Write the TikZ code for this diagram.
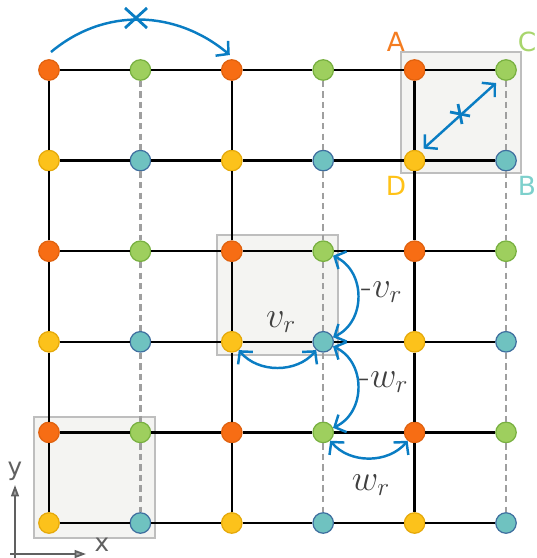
\documentclass[tikz,border=0pt]{standalone}
\usepackage{fontspec}
\newfontfamily\lab{DejaVu Sans}
\usetikzlibrary{arrows.meta,calc}
\definecolor{orgF}{HTML}{F76D14}\definecolor{orgD}{HTML}{E0620F}
\definecolor{grnF}{HTML}{9ECF5E}\definecolor{grnD}{HTML}{78B040}
\definecolor{yelF}{HTML}{FCC21B}\definecolor{yelD}{HTML}{E5A90A}
\definecolor{tealF}{HTML}{6FC2C0}\definecolor{tealD}{HTML}{3F6F9F}
\definecolor{blu}{HTML}{0A7DC3}
\definecolor{boxF}{HTML}{F4F4F2}\definecolor{boxD}{HTML}{BEBEBE}
\definecolor{labA}{HTML}{F47C20}\definecolor{labC}{HTML}{A8D56D}
\definecolor{labD}{HTML}{FFC217}\definecolor{labB}{HTML}{7DD0CC}
\definecolor{txtG}{HTML}{404040}\definecolor{axG}{HTML}{606060}
\begin{document}
\begin{tikzpicture}[x=0.02cm,y=-0.02cm,
  dot/.style={circle,minimum size=0.41cm,inner sep=0pt,line width=0.7pt},
  gbox/.style={fill=boxF,draw=boxD,line width=0.7pt},
  blk/.style={line width=1.3pt,black},
  dsh/.style={line width=1.3pt,gray!75,dash pattern=on 3.6pt off 2.4pt},
  barrow/.style={blu,line width=1.4pt,-{Straight Barb[length=5pt,width=11pt]}},
  bdarrow/.style={blu,line width=1.4pt,{Straight Barb[length=5pt,width=11pt]}-{Straight Barb[length=5pt,width=11pt]}},
  bline/.style={blu,line width=1.6pt},
  mlab/.style={text=txtG,font=\fontsize{20}{22}\selectfont,inner sep=0pt},
  clab/.style={font=\lab\fontsize{15}{17}\selectfont,inner sep=0pt},
  axis/.style={axG,line width=1pt,-{Triangle[length=6.5pt,width=4.5pt,fill=gray!70]}},
  alab/.style={text=axG,font=\lab\fontsize{14}{16}\selectfont,inner sep=0pt}]
\useasboundingbox (0,0) rectangle (537,558);
% gray boxes
\draw[gbox] (401,52) rectangle (521,173);
\draw[gbox] (217,235) rectangle (338,355);
\draw[gbox] (34,417) rectangle (155,538);
% nodes
\foreach \r in {0,...,5}{
  \foreach \c in {0,...,5}{
    \pgfmathsetmacro\xx{49+91.4*\c}
    \pgfmathsetmacro\yy{70+90.6*\r}
    \ifodd\r
      \ifodd\c \def\fc{tealF}\def\dc{tealD}\else\def\fc{yelF}\def\dc{yelD}\fi
    \else
      \ifodd\c \def\fc{grnF}\def\dc{grnD}\else\def\fc{orgF}\def\dc{orgD}\fi
    \fi
    \node[dot,fill=\fc,draw=\dc] (n\r\c) at (\xx,\yy) {};
  }
}
% horizontal lines
\foreach \r in {0,...,5}{
  \foreach \c in {0,...,4}{
    \pgfmathtruncatemacro\cc{\c+1}
    \draw[blk] (n\r\c) -- (n\r\cc);
  }
}
% vertical lines
\foreach \r in {0,...,4}{
  \pgfmathtruncatemacro\rr{\r+1}
  \foreach \c in {0,2,4}{\draw[blk] (n\r\c) -- (n\rr\c);}
  \foreach \c in {1,3,5}{\draw[dsh] (n\r\c) -- (n\rr\c);}
}
% corner labels
\node[clab,text=labA] (lA) at (396,42) {A};
\node[clab,text=labC] (lC) at (527,42) {C};
\node[clab,text=labD] (lD) at (396,186) {D};
\node[clab,text=labB] (lB) at (527,186) {B};
% top forbidden hop
\draw[barrow] ([shift={(2,-18)}]n00.center) to[out=40,in=140] ([shift={(-2,-15)}]n02.center);
\coordinate (xt) at (136,18);
\draw[bline] ([shift={(-11,-10)}]xt) -- ([shift={(11,10)}]xt)
             ([shift={(11,-10)}]xt) -- ([shift={(-11,10)}]xt);
% diagonal
\draw[bdarrow] ([shift={(9,-12)}]n14.center) -- ([shift={(-10,13)}]n05.center);
\coordinate (xd) at (460,114);
\draw[bline] ([shift={(-10,-2)}]xd) -- ([shift={(10,2)}]xd)
             ([shift={(-2,-10)}]xd) -- ([shift={(2,10)}]xd);
% curved double arrows
\draw[bdarrow] (n23) to[out=-25,in=25,looseness=1.15] (n33);
\draw[bdarrow] (n33) to[out=-25,in=25,looseness=1.15] (n43);
\draw[bdarrow] (n32) to[out=-50,in=-130] (n33);
\draw[bdarrow] (n43) to[out=-50,in=-130] (n44);
% math labels
\node[mlab] (lmv) at (382,292) {-$v_r$};
\node[mlab] (lv) at (281,322) {$v_r$};
\node[mlab] (lmw) at (384,382) {-$w_r$};
\node[mlab] (lw) at (371,485) {$w_r$};
% axes
\coordinate (o1) at (15,560);
\coordinate (ytip) at (15,485);
\coordinate (o2) at (10,554);
\coordinate (xtip) at (86,554);
\draw[axis] (o1) -- (ytip);
\draw[axis] (o2) -- (xtip);
\node[alab] (ly) at (15,471) {y};
\node[alab] (lx) at (102,545) {x};
\end{tikzpicture}
\end{document}
